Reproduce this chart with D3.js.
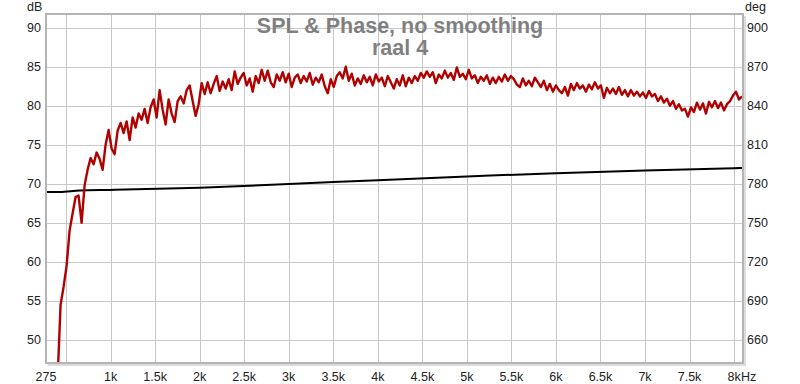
<!DOCTYPE html>
<html>
<head>
<meta charset="utf-8">
<script src="https://cdn.jsdelivr.net/npm/d3@7"></script>
<style>
  body { margin: 0; background: #fff; }
  text { font-family: Arial, "Liberation Sans", sans-serif; }
</style>
</head>
<body>
<script>
// x axis ticks (Hz) and their labels
var freqTicks = [275, 1000, 1500, 2000, 2500, 3000, 3500, 4000, 4500, 5000, 5500, 6000, 6500, 7000, 7500, 8000];
var freqLabels = ["275", "1k", "1.5k", "2k", "2.5k", "3k", "3.5k", "4k", "4.5k", "5k", "5.5k", "6k", "6.5k", "7k", "7.5k", "8k"];
var freqGrid = [500, 1000, 1500, 2000, 2500, 3000, 3500, 4000, 4500, 5000, 5500, 6000, 6500, 7000, 7500, 8000];
var dbTicks = [50, 55, 60, 65, 70, 75, 80, 85, 90];
var degTicks = [660, 690, 720, 750, 780, 810, 840, 870, 900];

// SPL readings, one every 33.7 Hz starting at 405 Hz
var splStart = 405;
var splStep = 33.7;
var splValues = [
  45.0, 54.5, 56.8, 59.5, 64.0, 66.2, 68.3, 68.5, 65.0, 69.8,
  71.8, 73.3, 72.5, 74.0, 73.2, 71.8, 75.0, 76.9, 74.5, 73.8,
  76.8, 77.8, 76.5, 78.0, 75.6, 78.5, 77.2, 79.0, 78.2, 79.6,
  77.8, 79.8, 80.8, 78.5, 82.0, 79.5, 77.6, 80.8, 79.0, 77.9,
  80.6, 81.2, 80.3, 82.0, 82.6, 80.6, 78.7, 80.2, 82.9, 81.5,
  83.0, 81.6, 82.8, 83.8, 81.9, 83.1, 82.2, 83.4, 82.0, 84.4,
  82.8, 83.6, 84.2, 82.6, 83.5, 81.8, 83.8, 82.9, 84.6, 83.2,
  84.5, 83.0, 82.4, 84.0, 83.2, 84.3, 83.0, 84.1, 82.4, 83.6,
  84.0, 82.9, 83.8, 83.1, 84.2, 82.7, 83.6, 83.0, 84.0, 82.5,
  81.6, 83.4, 82.4, 83.8, 84.3, 83.5, 85.0, 83.2, 84.1, 82.6,
  83.5, 82.8, 83.9, 83.0, 83.7, 82.6, 84.0, 83.1, 83.6, 82.5,
  83.8, 83.0, 82.2, 83.4, 82.6, 83.9, 82.5, 83.6, 82.9, 83.8,
  83.2, 84.2, 83.6, 84.4, 83.7, 84.3, 82.9, 84.0, 83.5, 84.5,
  83.6, 84.2, 83.3, 84.9, 83.7, 84.1, 83.4, 84.6, 83.5, 83.9,
  82.9, 83.7, 83.2, 83.9, 82.8, 83.6, 82.9, 83.7, 83.1, 84.0,
  83.2, 83.8, 83.4, 82.7, 82.4, 83.5, 82.6, 83.2, 82.5, 83.6,
  83.0, 82.4, 83.2, 82.0, 82.8, 81.8, 82.6, 82.0, 81.6, 82.4,
  81.3, 82.8, 82.0, 82.9, 82.2, 82.6, 81.8, 82.7, 82.1, 83.0,
  82.2, 82.6, 81.0, 82.3, 81.6, 82.2, 81.5, 82.4, 81.4, 82.0,
  81.2, 82.0, 81.3, 81.8, 81.2, 81.7, 81.0, 81.9, 81.2, 81.5,
  80.6, 81.2, 80.4, 80.9, 80.0, 80.6, 79.6, 80.2, 79.4, 79.6,
  78.6, 79.8, 79.2, 80.4, 79.5, 80.3, 79.0, 80.5, 79.8, 80.6,
  79.7, 80.4, 79.4, 80.2, 80.6, 81.3, 81.8, 80.8, 81.2
];

// phase (deg)
var phaseFreqs = [275, 430, 650, 1000, 2000, 3000, 4000, 5000, 6000, 7000, 8000, 8100];
var phaseDeg = [773.8, 773.7, 774.8, 775.3, 777.0, 779.8, 782.8, 785.6, 788.2, 790.3, 792.0, 792.2];

var width = 800, height = 384;
var plotL = 46, plotR = 743, plotT = 14, plotB = 363;

var svg = d3.select("body").append("svg")
  .attr("width", width)
  .attr("height", height);

var x = d3.scaleLinear().domain([275, 8100]).range([plotL, plotR]);
var yDb = d3.scaleLinear().domain([47.05, 91.75]).range([plotB, plotT]);
var yDeg = d3.scaleLinear().domain([642.3, 910.5]).range([plotB, plotT]);

// grid
svg.append("g").selectAll("line")
  .data(freqGrid)
  .enter().append("line")
  .attr("x1", function (d) { return Math.round(x(d)) + 0.5; })
  .attr("x2", function (d) { return Math.round(x(d)) + 0.5; })
  .attr("y1", plotT).attr("y2", plotB)
  .attr("stroke", "#c8c8c8");

svg.append("g").selectAll("line")
  .data(dbTicks)
  .enter().append("line")
  .attr("y1", function (d) { return Math.round(yDb(d)) + 0.5; })
  .attr("y2", function (d) { return Math.round(yDb(d)) + 0.5; })
  .attr("x1", plotL).attr("x2", plotR)
  .attr("stroke", "#c8c8c8");

// title
svg.append("text")
  .attr("x", 400).attr("y", 33)
  .attr("text-anchor", "middle")
  .attr("font-size", 21.5).attr("font-weight", "bold")
  .attr("fill", "#808080")
  .text("SPL & Phase, no smoothing");
svg.append("text")
  .attr("x", 400).attr("y", 55)
  .attr("text-anchor", "middle")
  .attr("font-size", 21.5).attr("font-weight", "bold")
  .attr("fill", "#808080")
  .text("raal 4");

// curves
svg.append("clipPath").attr("id", "plot")
  .append("rect")
  .attr("x", plotL).attr("y", plotT)
  .attr("width", plotR - plotL).attr("height", plotB - plotT);

var splData = splValues.map(function (v, i) { return [splStart + i * splStep, v]; });
var phaseData = phaseFreqs.map(function (f, i) { return [f, phaseDeg[i]]; });

svg.append("path")
  .datum(phaseData)
  .attr("clip-path", "url(#plot)")
  .attr("fill", "none")
  .attr("stroke", "#000")
  .attr("stroke-width", 2)
  .attr("d", d3.line()
    .x(function (d) { return x(d[0]); })
    .y(function (d) { return yDeg(d[1]); })
    .curve(d3.curveMonotoneX));

svg.append("path")
  .datum(splData)
  .attr("clip-path", "url(#plot)")
  .attr("fill", "none")
  .attr("stroke", "#b00000")
  .attr("stroke-width", 2.4)
  .attr("stroke-linejoin", "round")
  .attr("d", d3.line()
    .x(function (d) { return x(d[0]); })
    .y(function (d) { return yDb(d[1]); }));

// frame
svg.append("rect")
  .attr("x", plotL).attr("y", plotT)
  .attr("width", plotR - plotL).attr("height", plotB - plotT)
  .attr("fill", "none")
  .attr("stroke", "#b4b4b4")
  .attr("stroke-width", 2);
svg.append("path")
  .attr("d", "M" + (plotR + 2) + "," + (plotT + 2) + "V" + (plotB + 2) + "H" + (plotL + 2))
  .attr("fill", "none")
  .attr("stroke", "#dcdcdc")
  .attr("stroke-width", 2);

// axes labels
svg.append("g").selectAll("text")
  .data(dbTicks)
  .enter().append("text")
  .attr("x", 41)
  .attr("y", function (d) { return yDb(d) + 4.5; })
  .attr("text-anchor", "end")
  .attr("font-size", 12.5)
  .attr("fill", "#222")
  .text(function (d) { return d; });

svg.append("g").selectAll("text")
  .data(degTicks)
  .enter().append("text")
  .attr("x", 747)
  .attr("y", function (d) { return yDeg(d) + 4.5; })
  .attr("text-anchor", "start")
  .attr("font-size", 12.5)
  .attr("fill", "#222")
  .text(function (d) { return d; });

svg.append("g").selectAll("text")
  .data(freqTicks)
  .enter().append("text")
  .attr("x", function (d) { return x(d); })
  .attr("y", 381)
  .attr("text-anchor", "middle")
  .attr("font-size", 12.5)
  .attr("fill", "#222")
  .text(function (d, i) { return freqLabels[i]; });

svg.append("text")
  .attr("x", x(8000) + 7).attr("y", 381)
  .attr("font-size", 12.5).attr("fill", "#222")
  .text("Hz");

svg.append("text")
  .attr("x", 27).attr("y", 11)
  .attr("font-size", 12.5).attr("fill", "#222")
  .text("dB");
svg.append("text")
  .attr("x", 745).attr("y", 11)
  .attr("font-size", 12.5).attr("fill", "#222")
  .text("deg");
</script>
</body>
</html>
